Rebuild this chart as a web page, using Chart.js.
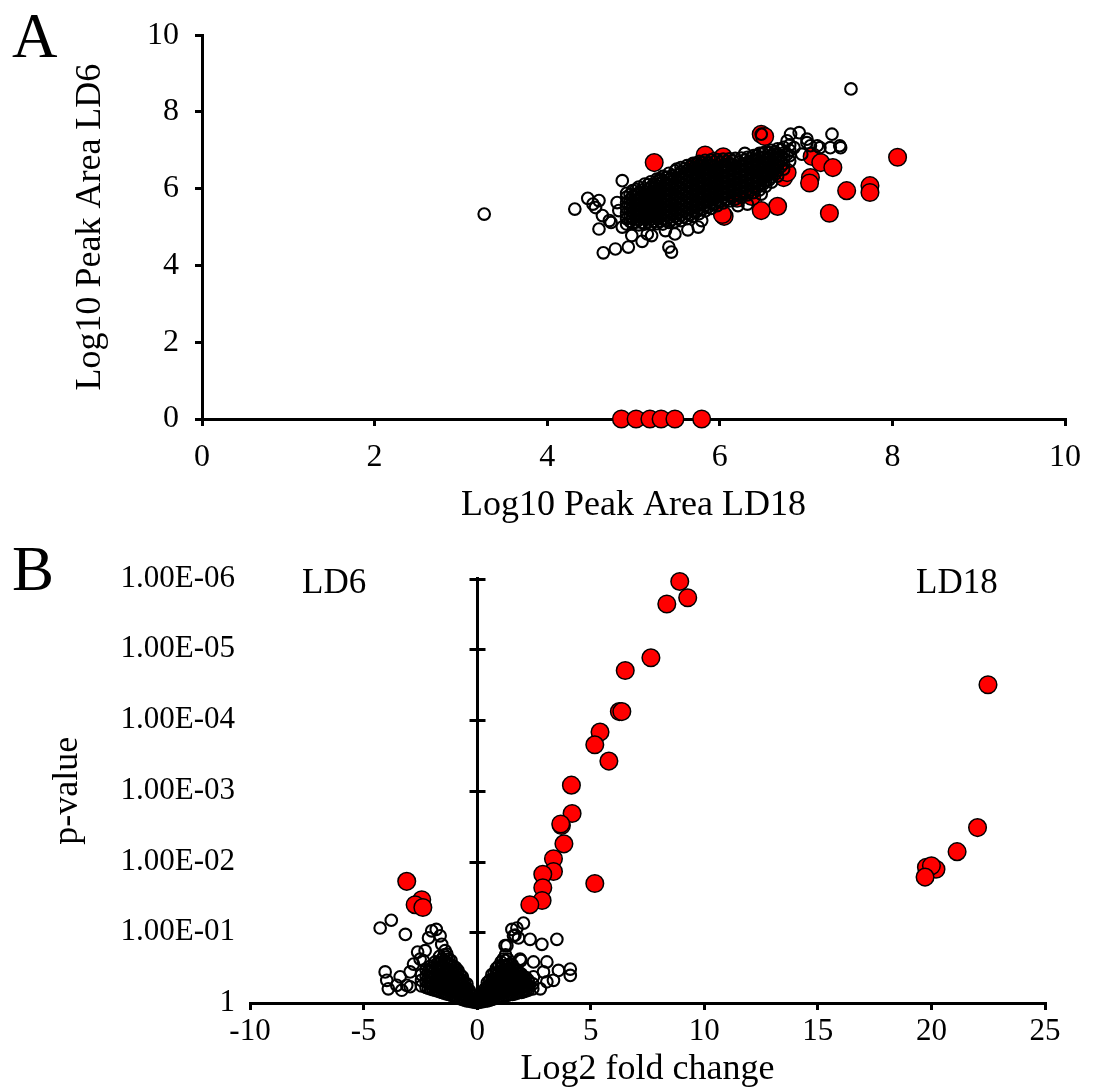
<!DOCTYPE html>
<html>
<head>
<meta charset="utf-8">
<script src="https://cdn.jsdelivr.net/npm/chart.js@4.4.1/dist/chart.umd.min.js"></script>
<style>
  body { margin: 0; background: #fff; }
  #wrapA { position: absolute; left: 0; top: 0; width: 1093px; height: 545px; }
  #wrapB { position: absolute; left: 0; top: 545px; width: 1093px; height: 546px; }
</style>
</head>
<body>
<div id="wrapA"><canvas id="chartA"></canvas></div>
<div id="wrapB"><canvas id="chartB"></canvas></div>
<script>
// ---- panel A: log10 peak areas, LD18 (x) vs LD6 (y) ----
// dense part of the cloud, read column by column: [LD18, [LD6 values]]
var coreA = [
  [4.92, [5.08,5.22,5.36,5.50,5.64,5.78,5.88]],
  [4.99, [5.10,5.24,5.38,5.52,5.66,5.80,5.95]],
  [5.06, [5.06,5.19,5.33,5.47,5.61,5.75,5.89,6.04]],
  [5.13, [5.08,5.22,5.36,5.50,5.64,5.78,5.92,6.12]],
  [5.20, [5.07,5.20,5.34,5.48,5.62,5.76,5.90,6.04,6.18]],
  [5.27, [5.09,5.23,5.37,5.51,5.65,5.79,5.93,6.07,6.25]],
  [5.34, [5.08,5.21,5.35,5.49,5.63,5.77,5.91,6.05,6.19,6.32]],
  [5.41, [5.12,5.26,5.40,5.54,5.68,5.82,5.96,6.10,6.24,6.40]],
  [5.48, [5.14,5.28,5.42,5.56,5.70,5.84,5.98,6.12,6.26,6.46]],
  [5.55, [5.17,5.31,5.45,5.59,5.73,5.87,6.01,6.15,6.29,6.43,6.55]],
  [5.62, [5.22,5.36,5.50,5.64,5.78,5.92,6.06,6.20,6.34,6.48,6.60]],
  [5.69, [5.28,5.42,5.56,5.70,5.84,5.98,6.12,6.26,6.40,6.54,6.66]],
  [5.76, [5.35,5.49,5.63,5.77,5.91,6.05,6.19,6.33,6.47,6.61,6.71]],
  [5.83, [5.42,5.56,5.70,5.84,5.98,6.12,6.26,6.40,6.54,6.74]],
  [5.90, [5.49,5.63,5.77,5.91,6.05,6.19,6.33,6.47,6.61,6.75]],
  [5.97, [5.56,5.70,5.84,5.98,6.12,6.26,6.40,6.54,6.76]],
  [6.04, [5.63,5.77,5.91,6.05,6.19,6.33,6.47,6.61,6.77]],
  [6.11, [5.68,5.82,5.96,6.10,6.24,6.38,6.52,6.66,6.78]],
  [6.18, [5.73,5.87,6.01,6.15,6.29,6.43,6.57,6.79]],
  [6.25, [5.78,5.92,6.06,6.20,6.34,6.48,6.62,6.80]],
  [6.32, [5.84,5.98,6.12,6.26,6.40,6.54,6.68,6.82]],
  [6.39, [5.90,6.04,6.18,6.32,6.46,6.60,6.74,6.86]],
  [6.46, [5.97,6.11,6.25,6.39,6.53,6.67,6.81,6.92]],
  [6.53, [6.06,6.20,6.34,6.48,6.62,6.76,6.96]],
  [6.60, [6.17,6.31,6.45,6.59,6.73,6.87,7.00]],
  [6.67, [6.33,6.47,6.61,6.75,6.89,7.04]],
  [6.74, [6.51,6.65,6.79,6.93,7.08]],
  [6.81, [6.72,6.86,7.00,7.14]],
  // second pass through the same cloud, between the columns above
  [4.96, [5.15,5.29,5.43,5.57,5.71,5.85]],
  [5.03, [5.13,5.27,5.41,5.55,5.69,5.83,5.98]],
  [5.10, [5.12,5.26,5.40,5.54,5.68,5.82,5.97]],
  [5.17, [5.14,5.28,5.42,5.56,5.70,5.84,5.98,6.11]],
  [5.24, [5.15,5.29,5.43,5.57,5.71,5.85,5.99,6.13]],
  [5.31, [5.15,5.29,5.43,5.57,5.71,5.85,5.99,6.13,6.26]],
  [5.38, [5.17,5.31,5.45,5.59,5.73,5.87,6.01,6.15,6.29]],
  [5.45, [5.20,5.34,5.48,5.62,5.76,5.90,6.04,6.18,6.33]],
  [5.52, [5.23,5.37,5.51,5.65,5.79,5.93,6.07,6.21,6.36]],
  [5.59, [5.27,5.41,5.55,5.69,5.83,5.97,6.11,6.25,6.39,6.52]],
  [5.66, [5.33,5.47,5.61,5.75,5.89,6.03,6.17,6.31,6.45,6.58]],
  [5.73, [5.40,5.54,5.68,5.82,5.96,6.10,6.24,6.38,6.52,6.64]],
  [5.80, [5.47,5.61,5.75,5.89,6.03,6.17,6.31,6.45,6.59,6.68]],
  [5.87, [5.53,5.67,5.81,5.95,6.09,6.23,6.37,6.51,6.66]],
  [5.94, [5.60,5.74,5.88,6.02,6.16,6.30,6.44,6.58,6.70]],
  [6.01, [5.68,5.82,5.96,6.10,6.24,6.38,6.52,6.68]],
  [6.08, [5.73,5.87,6.01,6.15,6.29,6.43,6.57,6.71]],
  [6.15, [5.79,5.93,6.07,6.21,6.35,6.49,6.63,6.73]],
  [6.22, [5.84,5.98,6.12,6.26,6.40,6.54,6.70]],
  [6.29, [5.90,6.04,6.18,6.32,6.46,6.60,6.74]],
  [6.36, [5.96,6.10,6.24,6.38,6.52,6.66,6.80]],
  [6.43, [6.03,6.17,6.31,6.45,6.59,6.73,6.86]],
  [6.50, [6.12,6.26,6.40,6.54,6.68,6.82,6.93]],
  [6.57, [6.23,6.37,6.51,6.65,6.79,6.94]],
  [6.64, [6.38,6.52,6.66,6.80,6.96]],
  [6.71, [6.58,6.72,6.86,7.02]]
];
// scattered unchanged peaks around the cloud
var looseA = [
  [3.27,5.34],[7.52,8.60],
  [4.32,5.47],[4.47,5.75],[4.60,5.69],[4.53,5.60],[4.56,5.51],[4.64,5.30],[4.60,4.95],[4.72,5.17],
  [4.87,6.21],[4.81,5.64],[4.83,5.43],[4.74,5.12],[4.65,4.33],[4.79,4.43],[4.94,4.48],[5.10,4.63],
  [4.87,5.00],[4.98,4.78],[5.16,4.82],[5.21,4.78],[5.41,4.48],[5.44,4.35],[5.37,4.91],[5.48,4.82],
  [5.63,4.93],[5.75,5.00],[5.79,5.17],[5.25,5.26],[5.50,6.51],[5.29,6.21],[5.40,6.30],[6.29,6.92],
  [6.32,5.60],[6.48,5.86],[6.51,6.29],[6.48,6.38],[6.21,5.56],[6.82,7.42],[6.92,7.46],[7.01,7.29],
  [7.30,7.42],[7.28,7.07],[7.40,7.07],[7.01,7.20],[7.13,7.12],[6.78,7.25],[6.78,6.90],[6.86,7.07],
  [7.05,7.12],[7.16,7.07],[7.39,7.12],[6.95,6.90],[6.36,6.64],[6.63,6.90],[6.48,7.42]
];
// significantly changed peaks (red)
var changedA = [
  [5.24,6.68],[5.83,6.88],[5.73,6.60],[5.95,6.72],[6.04,6.83],[6.48,7.42],[6.52,7.36],[6.65,6.47],
  [6.74,6.29],[6.78,6.42],[7.07,6.84],[7.17,6.68],[7.31,6.55],[7.05,6.29],[7.04,6.15],[7.47,5.95],
  [7.27,5.36],[7.74,6.08],[7.74,5.90],[8.06,6.82],[6.67,5.54],[6.48,5.43],[6.37,5.80],[6.20,5.75],
  [6.05,5.28],[6.03,5.33],
  [4.86,0],[5.03,0],[5.19,0],[5.32,0],[5.48,0],[5.79,0]
];

// ---- panel B: volcano plot, log2 fold change (x) vs -log10 p (y) ----
var coreB = [
  [-0.08, [0.01,0.04]],
  [-0.18, [0.02,0.06,0.10]],
  [-0.25, [0.02,0.07,0.12]],
  [-0.35, [0.03,0.08,0.13,0.18]],
  [-0.45, [0.03,0.09,0.15,0.21,0.27]],
  [-0.55, [0.04,0.10,0.16,0.22,0.28]],
  [-0.65, [0.05,0.11,0.18,0.25,0.32,0.37]],
  [-0.75, [0.06,0.12,0.19,0.26,0.33,0.40]],
  [-0.85, [0.07,0.14,0.21,0.28,0.35,0.42,0.46]],
  [-0.95, [0.09,0.16,0.23,0.30,0.37,0.44,0.50]],
  [-1.05, [0.10,0.17,0.24,0.31,0.38,0.45,0.52]],
  [-1.15, [0.11,0.18,0.25,0.32,0.39,0.46,0.54,0.60]],
  [-1.25, [0.12,0.19,0.26,0.33,0.40,0.47,0.55,0.62]],
  [-1.35, [0.13,0.20,0.27,0.34,0.41,0.49,0.57,0.65]],
  [-1.45, [0.14,0.21,0.28,0.35,0.42,0.50,0.60,0.68]],
  [-1.55, [0.15,0.22,0.29,0.37,0.45,0.53,0.62]],
  [-1.65, [0.16,0.23,0.30,0.38,0.46,0.55,0.66]],
  [-1.75, [0.17,0.24,0.31,0.39,0.47,0.56]],
  [-1.85, [0.18,0.25,0.32,0.40,0.48,0.58]],
  [-1.95, [0.19,0.26,0.34,0.42,0.50]],
  [-2.05, [0.20,0.27,0.35,0.44,0.52]],
  [-2.15, [0.21,0.29,0.37,0.45]],
  [-2.25, [0.22,0.30,0.38,0.47]],
  [-2.45, [0.24,0.32,0.40]],
  [0.08, [0.01,0.04]],
  [0.17, [0.02,0.06,0.10]],
  [0.25, [0.02,0.08,0.14]],
  [0.35, [0.03,0.09,0.15,0.20]],
  [0.45, [0.03,0.09,0.16,0.23,0.29]],
  [0.55, [0.04,0.11,0.18,0.25,0.32]],
  [0.65, [0.05,0.12,0.19,0.26,0.33,0.40]],
  [0.75, [0.06,0.13,0.20,0.27,0.34,0.42]],
  [0.85, [0.07,0.14,0.21,0.28,0.35,0.42,0.49]],
  [0.95, [0.08,0.15,0.22,0.29,0.36,0.44,0.52]],
  [1.05, [0.08,0.15,0.22,0.29,0.36,0.43,0.50,0.58]],
  [1.15, [0.09,0.16,0.23,0.30,0.37,0.44,0.52,0.62]],
  [1.25, [0.10,0.17,0.24,0.31,0.38,0.45,0.52,0.60,0.68]],
  [1.35, [0.11,0.18,0.25,0.32,0.39,0.46,0.54,0.62]],
  [1.45, [0.12,0.19,0.26,0.33,0.40,0.47,0.55]],
  [1.55, [0.12,0.19,0.26,0.33,0.40,0.48,0.54]],
  [1.65, [0.13,0.20,0.27,0.34,0.41,0.48]],
  [1.75, [0.14,0.21,0.28,0.35,0.42,0.47]],
  [1.85, [0.15,0.22,0.29,0.36,0.43]],
  [1.95, [0.15,0.22,0.29,0.36,0.41]],
  [2.05, [0.16,0.23,0.30,0.37]],
  [2.15, [0.17,0.24,0.31,0.36]],
  [2.25, [0.18,0.25,0.32]],
  [2.45, [0.20,0.27]]
];
var looseB = [
  [-4.27,1.06],[-3.78,1.17],[-3.16,0.97],[-4.05,0.44],[-3.98,0.32],[-3.91,0.20],[-3.39,0.37],[-2.95,0.44],
  [-3.10,0.25],[-2.80,0.55],[-2.62,0.72],[-2.14,0.92],[-2.00,1.02],[-1.80,1.04],[-1.63,0.95],[-1.56,0.83],
  [-1.41,0.74],[-2.29,0.74],[-2.51,0.62],[-3.54,0.25],[-3.32,0.18],[-2.95,0.23],[-1.33,0.69],[-2.37,0.60],
  [1.31,0.81],[1.53,1.04],[1.75,1.06],[2.04,1.13],[1.60,0.95],[1.82,0.92],[2.33,0.90],[2.85,0.83],
  [3.51,0.90],[1.89,0.62],[2.48,0.58],[3.07,0.58],[3.58,0.46],[4.10,0.48],[4.10,0.39],[2.92,0.44],
  [2.48,0.37],[3.07,0.30],[2.78,0.20],[2.19,0.20],[3.36,0.32],[1.93,0.60],[1.67,0.96],[1.23,0.81]
];
var changedB = [
  [8.92,5.96],[8.35,5.64],[9.27,5.73],[7.65,4.88],[6.52,4.70],[6.26,4.12],[6.37,4.12],[5.41,3.83],
  [5.18,3.65],[5.80,3.42],[4.15,3.08],[4.18,2.68],[3.71,2.51],[3.68,2.53],[3.82,2.25],[3.36,2.04],
  [3.36,1.86],[2.89,1.82],[2.89,1.63],[2.86,1.45],[2.32,1.39],[5.18,1.69],
  [22.49,4.50],[22.03,2.48],[21.13,2.14],[19.78,1.92],[20.20,1.89],[20.00,1.94],[19.72,1.78],
  [-3.10,1.72],[-2.44,1.46],[-2.73,1.39],[-2.39,1.35]
];
var pLabels = ['1', '1.00E-01', '1.00E-02', '1.00E-03', '1.00E-04', '1.00E-05', '1.00E-06'];

function flatCols(cols) {
  return cols.flatMap(function (c) { return c[1].map(function (y) { return {x: c[0], y: y}; }); });
}
function toPts(arr) {
  return arr.map(function (p) { return {x: p[0], y: p[1]}; });
}

var serif = "'Liberation Serif', 'Times New Roman', serif";
Chart.defaults.font.family = serif;
Chart.defaults.color = '#000';

// panel letters and group captions
var captions = {
  id: 'captions',
  afterDraw: function (chart, args, opts) {
    var ctx = chart.ctx;
    ctx.save();
    ctx.fillStyle = '#000';
    ctx.textBaseline = 'alphabetic';
    ctx.textAlign = 'left';
    opts.items.forEach(function (it) {
      ctx.font = it.size + 'px ' + serif;
      ctx.fillText(it.text, it.x, it.y);
    });
    ctx.restore();
  }
};

// vertical axis through x = 0 with ticks crossing it
var zeroAxis = {
  id: 'zeroAxis',
  beforeDatasetsDraw: function (chart) {
    var ctx = chart.ctx, x = chart.scales.x, y = chart.scales.y;
    var px = Math.round(x.getPixelForValue(0)) + 0.5;
    ctx.save();
    ctx.strokeStyle = '#000';
    ctx.lineWidth = 3;
    ctx.beginPath();
    ctx.moveTo(px, y.getPixelForValue(0));
    ctx.lineTo(px, y.getPixelForValue(6) - 1.5);
    y.ticks.forEach(function (t) {
      if (t.value === 0) return;
      var py = Math.round(y.getPixelForValue(t.value)) + 0.5;
      ctx.moveTo(px - 8, py);
      ctx.lineTo(px + 8, py);
    });
    ctx.stroke();
    ctx.restore();
  }
};

var openRing = { pointRadius: 5.8, borderWidth: 2.1, borderColor: '#000', backgroundColor: 'rgba(0,0,0,0)', pointHoverRadius: 5.8 };
var redDot = { pointRadius: 8.8, borderWidth: 1.5, borderColor: '#000', backgroundColor: '#ff0000', pointHoverRadius: 8.8 };

function axisGrid() {
  return { drawOnChartArea: false, drawTicks: true, tickLength: 7, color: '#000', lineWidth: 3 };
}

new Chart(document.getElementById('chartA'), {
  type: 'scatter',
  data: {
    datasets: [
      Object.assign({ label: 'changed', data: toPts(changedA), order: 2, clip: false }, redDot),
      Object.assign({ label: 'peaks', data: flatCols(coreA).concat(toPts(looseA)), order: 1, clip: false }, openRing)
    ]
  },
  options: {
    responsive: true,
    maintainAspectRatio: false,
    animation: false,
    events: [],
    layout: { padding: { top: 34, right: 18, left: 0, bottom: 0 } },
    plugins: {
      legend: { display: false },
      tooltip: { enabled: false },
      captions: { items: [{ text: 'A', x: 12, y: 57, size: 63 }] }
    },
    scales: {
      x: {
        type: 'linear', min: 0, max: 10,
        ticks: { stepSize: 2, font: { size: 32 }, color: '#000', padding: 12 },
        grid: axisGrid(),
        border: { display: true, color: '#000', width: 3 },
        title: { display: true, text: 'Log10 Peak Area LD18', font: { size: 36 }, color: '#000', padding: { top: 0, bottom: 18 } },
        afterFit: function (s) { s.height = 126; }
      },
      y: {
        type: 'linear', min: 0, max: 10,
        ticks: { stepSize: 2, font: { size: 32 }, color: '#000', padding: 16 },
        grid: axisGrid(),
        border: { display: true, color: '#000', width: 3 },
        title: { display: true, text: 'Log10 Peak Area LD6', font: { size: 36 }, color: '#000', padding: { top: 69, bottom: 0 } },
        afterFit: function (s) { s.width = 202; }
      }
    }
  },
  plugins: [captions]
});

new Chart(document.getElementById('chartB'), {
  type: 'scatter',
  data: {
    datasets: [
      Object.assign({ label: 'changed', data: toPts(changedB), order: 2, clip: false }, redDot),
      Object.assign({ label: 'peaks', data: flatCols(coreB).concat(toPts(looseB)), order: 1, clip: false }, openRing)
    ]
  },
  options: {
    responsive: true,
    maintainAspectRatio: false,
    animation: false,
    events: [],
    layout: { padding: { top: 27, right: 48, left: 0, bottom: 0 } },
    plugins: {
      legend: { display: false },
      tooltip: { enabled: false },
      captions: { items: [
        { text: 'B', x: 12, y: 45, size: 63 },
        { text: 'LD6', x: 302, y: 48, size: 35 },
        { text: 'LD18', x: 916, y: 48, size: 35 }
      ] }
    },
    scales: {
      x: {
        type: 'linear', min: -10, max: 25,
        ticks: { stepSize: 5, font: { size: 31 }, color: '#000', padding: 3 },
        grid: axisGrid(),
        border: { display: true, color: '#000', width: 3 },
        title: { display: true, text: 'Log2 fold change', font: { size: 36 }, color: '#000', padding: { top: 0, bottom: 0 } },
        afterFit: function (s) { s.height = 88; }
      },
      y: {
        type: 'linear', min: 0, max: 6,
        ticks: {
          stepSize: 1, font: { size: 31 }, color: '#000', padding: 15,
          callback: function (v) { return pLabels[v]; }
        },
        grid: { display: false, drawTicks: false },
        border: { display: false },
        title: { display: true, text: 'p-value', font: { size: 36 }, color: '#000', padding: { top: 46, bottom: 0 } },
        afterFit: function (s) { s.width = 250; }
      }
    }
  },
  plugins: [captions, zeroAxis]
});
</script>
</body>
</html>
